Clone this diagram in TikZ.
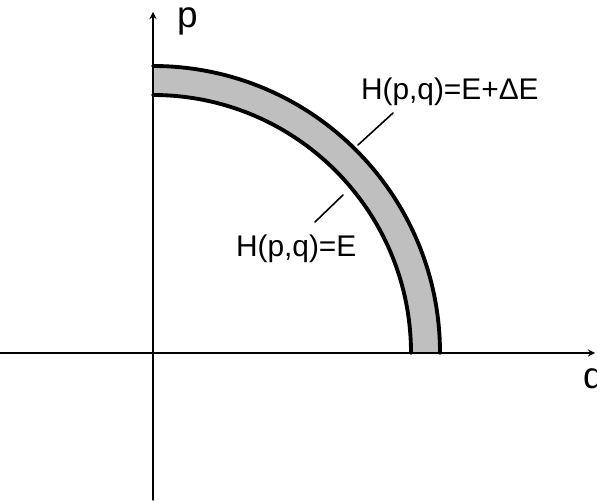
\documentclass[tikz,border=0pt]{standalone}
\usepackage{fontspec}
\setmainfont{Liberation Sans}
\begin{document}
\begin{tikzpicture}[line join=round,line cap=round,>=stealth,x=0.02cm,y=0.02cm,font=\fontsize{17}{19}\selectfont]
	\tikzset{every node/.style={inner sep=0pt,outer sep=0pt}}
	\tikzset{axis/.style={line width=0.8pt},shell/.style={line width=2.2pt},leader/.style={line width=0.9pt}}
	\def \ri{258} \def \ro{287}
	\useasboundingbox (0,0) rectangle (597,500);
	\coordinate (O) at (153,147);
	\foreach \x/\y/\n in {0/147/xl,595/147/xr,153/0/yb,153/488/yt} \coordinate (\n) at (\x,\y);
	% energy shell
	\fill[black!25] (O) ++(\ri,0) arc[start angle=0,end angle=90,radius=\ri]
		-- ++(0,\ro-\ri) arc[start angle=90,end angle=0,radius=\ro] -- cycle;
	\draw[->,axis] (xl)--(xr);
	\draw[->,axis] (yb)--(yt);
	\draw[shell] (O) ++(\ri,0) arc[start angle=0,end angle=90,radius=\ri];
	\draw[shell] (O) ++(\ro,0) arc[start angle=0,end angle=90,radius=\ro];
	\node[anchor=base west,font=\fontsize{21}{23}\selectfont] (p) at (177,472) {p};
	\node[anchor=base west,font=\fontsize{21}{23}\selectfont] (q) at (583,112) {q};
	\node[anchor=base west] (Hout) at (361,400) {H(p,q)=E+ΔE};
	\node[anchor=base west] (Hin) at (236,243) {H(p,q)=E};
	\foreach \x/\y/\n in {358/355/a1,393/387/a2,343/305/b1,315/278/b2} \coordinate (\n) at (\x,\y);
	\draw[leader] (a1)--(a2);
	\draw[leader] (b1)--(b2);
\end{tikzpicture}
\end{document}
